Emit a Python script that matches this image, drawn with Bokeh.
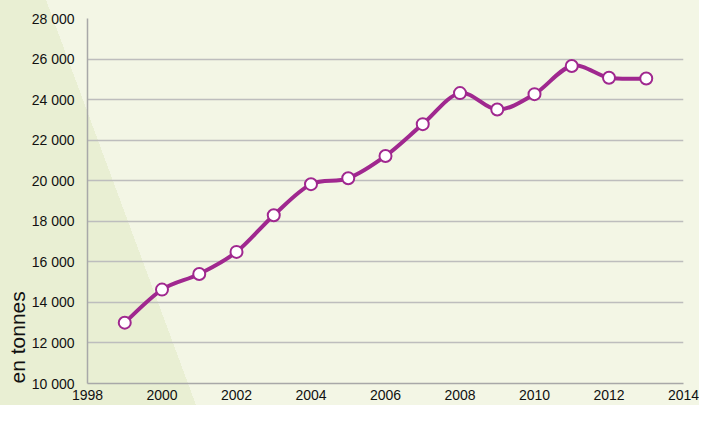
import math
import numpy as np
from bokeh.plotting import figure
from bokeh.models import FixedTicker, Range1d, Title
from bokeh.embed import file_html
from bokeh.resources import INLINE

years = [1999, 2000, 2001, 2002, 2003, 2004, 2005, 2006, 2007, 2008, 2009, 2010, 2011, 2012, 2013]
tonnes = [13000, 14630, 15400, 16490, 18300, 19830, 20120, 21220, 22790, 24320, 23510, 24270, 25660, 25080, 25040]

y_ticks = [10000, 12000, 14000, 16000, 18000, 20000, 22000, 24000, 26000, 28000]
y_tick_labels = ["10 000", "12 000", "14 000", "16 000", "18 000", "20 000", "22 000", "24 000", "26 000", "28 000"]
x_ticks = [1998, 2000, 2002, 2004, 2006, 2008, 2010, 2012, 2014]

PURPLE = "#A0288F"
LIGHT = "#F3F6E5"
DARK = "#E9EFD3"

W, H = 699, 405
p = figure(frame_width=596, frame_height=365, output_backend="svg", toolbar_location=None,
           x_range=Range1d(1998, 2014), y_range=Range1d(10000, 28000),
           min_border_left=87, min_border_right=16, min_border_top=18, min_border_bottom=22)
p.background_fill_color = None
p.border_fill_color = None
p.outline_line_color = None

# diagonal two-tone background behind the whole chart (CSS hard-stop gradient)
bx0, by0, bx1, by1 = 46.0, 0.0, 196.0, 405.0
dx, dy = bx1 - bx0, by1 - by0
ang = math.degrees(math.atan2(dy, dx))
nx, ny = dy / math.hypot(dx, dy), -dx / math.hypot(dx, dy)
D = (bx0 - 0) * nx + (by0 - H) * ny
p.styles = {"background": f"linear-gradient({ang:.2f}deg, {DARK} 0px, {DARK} {D:.1f}px, {LIGHT} {D:.1f}px, {LIGHT} 100%)"}

# axes
for ax in (p.xaxis, p.yaxis):
    ax.major_tick_line_color = None
    ax.minor_tick_line_color = None
    ax.major_tick_out = 0
    ax.major_tick_in = 0
    ax.minor_tick_out = 0
    ax.axis_line_color = "#A8A8A8"
    ax.axis_line_width = 1.5
    ax.major_label_text_font = "Liberation Sans"
    ax.major_label_text_font_size = "14px"
    ax.major_label_text_color = "#111111"
p.xaxis.ticker = FixedTicker(ticks=x_ticks)
p.yaxis.ticker = FixedTicker(ticks=y_ticks)
p.yaxis.major_label_overrides = {t: l for t, l in zip(y_ticks, y_tick_labels)}
p.xaxis.major_label_standoff = 6
p.yaxis.major_label_standoff = 13

p.xgrid.grid_line_color = None
p.ygrid.grid_line_color = "#BDBDBD"
p.ygrid.grid_line_width = 1.5

# smooth curve through the points (Catmull-Rom as cubic Bezier segments)
x = np.array(years, dtype=float)
y = np.array(tonnes, dtype=float)
xp = np.concatenate([[x[0]], x, [x[-1]]])
yp = np.concatenate([[y[0]], y, [y[-1]]])
k = 1.0 / 6.0
x0 = x[:-1]; y0 = y[:-1]; x1 = x[1:]; y1 = y[1:]
cx0 = x0 + (xp[2:-1] - xp[:-3]) * k
cy0 = y0 + (yp[2:-1] - yp[:-3]) * k
cx1 = x1 - (xp[3:] - xp[1:-2]) * k
cy1 = y1 - (yp[3:] - yp[1:-2]) * k
p.bezier(x0=x0, y0=y0, x1=x1, y1=y1, cx0=cx0, cy0=cy0, cx1=cx1, cy1=cy1,
         line_color=PURPLE, line_width=4)

p.scatter(years, tonnes, size=12, fill_color="white", line_color=PURPLE, line_width=2)

ylab = Title(text="en tonnes", align="left", text_font="Liberation Sans", text_font_size="21px",
             text_font_style="normal", text_color="#111111", standoff=0)
p.add_layout(ylab, "left")

open("out.html", "w").write(file_html(p, INLINE))
